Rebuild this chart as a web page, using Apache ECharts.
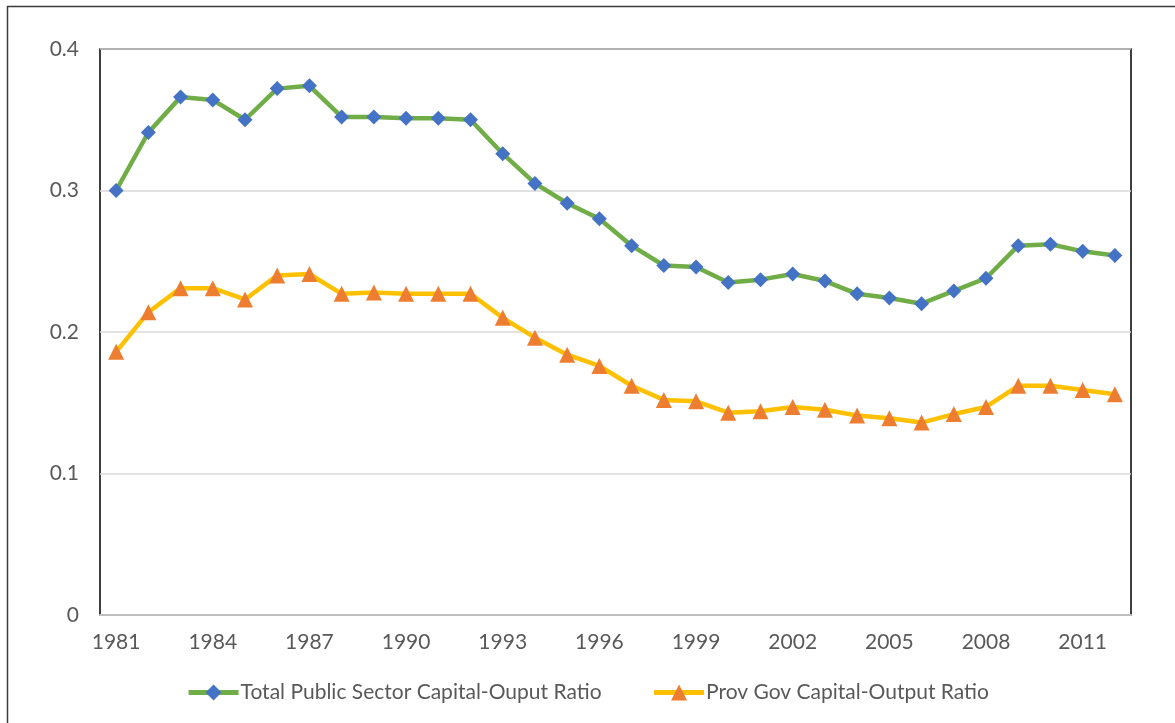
<!DOCTYPE html>
<html>
<head>
<meta charset="utf-8">
<script src="https://cdn.jsdelivr.net/npm/echarts@6/dist/echarts.min.js"></script>
<style>
  html, body { margin: 0; padding: 0; background: #fff; }
  #chart { width: 1175px; height: 723px; }
</style>
</head>
<body>
<div id="chart"></div>
<script>
// years on the x axis
var years = ['1981','1982','1983','1984','1985','1986','1987','1988','1989','1990',
	'1991','1992','1993','1994','1995','1996','1997','1998','1999','2000',
	'2001','2002','2003','2004','2005','2006','2007','2008','2009','2010',
	'2011','2012'];

// Total Public Sector Capital-Ouput Ratio
var totalRatio = [0.300, 0.341, 0.366, 0.364, 0.350, 0.372, 0.374, 0.352, 0.352, 0.351,
	0.351, 0.350, 0.326, 0.305, 0.291, 0.280, 0.261, 0.247, 0.246, 0.235,
	0.237, 0.241, 0.236, 0.227, 0.224, 0.220, 0.229, 0.238, 0.261, 0.262,
	0.257, 0.254];

// Prov Gov Capital-Output Ratio
var provRatio = [0.186, 0.214, 0.231, 0.231, 0.223, 0.240, 0.241, 0.227, 0.228, 0.227,
	0.227, 0.227, 0.210, 0.196, 0.184, 0.176, 0.162, 0.152, 0.151, 0.143,
	0.144, 0.147, 0.145, 0.141, 0.139, 0.136, 0.142, 0.147, 0.162, 0.162,
	0.159, 0.156];

var seriesNames = ['Total Public Sector Capital-Ouput Ratio', 'Prov Gov Capital-Output Ratio'];

var textFont = 'Lato';
var textColor = '#595959';

var chart = echarts.init(document.getElementById('chart'));
var option = {
	backgroundColor: '#fff',
	animation: false,
	textStyle: { fontFamily: textFont },
	graphic: [
		{
			type: 'polyline',
			shape: { points: [[7.5, 723], [7.5, 6.5], [1175, 6.5]] },
			style: { stroke: '#3a3a3a', lineWidth: 1.5, fill: null },
			silent: true
		}
	],
	grid: {
		left: 100,
		right: 44,
		top: 49,
		bottom: 108,
		show: true,
		borderColor: '#000',
		borderWidth: 1.5
	},
	legend: {
		data: seriesNames,
		bottom: 15,
		left: 'center',
		itemWidth: 50,
		itemHeight: 20,
		itemGap: 50,
		lineStyle: { width: 5 },
		textStyle: { color: textColor, fontSize: 21, fontFamily: textFont, padding: [0, 0, 0, -3] }
	},
	xAxis: {
		type: 'category',
		data: years,
		boundaryGap: true,
		axisTick: { show: false },
		axisLine: { lineStyle: { color: '#bfbfbf', width: 2 } },
		axisLabel: {
			interval: 2,
			color: textColor,
			fontSize: 21,
			margin: 17,
			fontFamily: textFont
		},
		splitLine: { show: false }
	},
	yAxis: {
		type: 'value',
		min: 0,
		max: 0.4,
		interval: 0.1,
		axisLine: { show: false },
		axisTick: { show: false },
		axisLabel: {
			color: textColor,
			fontSize: 21,
			margin: 21,
			fontFamily: textFont
		},
		splitLine: { lineStyle: { color: '#d9d9d9', width: 1.5 } }
	},
	series: [
		{
			name: seriesNames[0],
			type: 'line',
			data: totalRatio,
			symbol: 'diamond',
			symbolSize: 15,
			showAllSymbol: true,
			lineStyle: { color: '#70ad47', width: 4.5 },
			itemStyle: { color: '#4472c4', borderWidth: 0 },
			color: '#4472c4'
		},
		{
			name: seriesNames[1],
			type: 'line',
			data: provRatio,
			symbol: 'triangle',
			symbolSize: 16,
			showAllSymbol: true,
			lineStyle: { color: '#ffc000', width: 4.5 },
			itemStyle: { color: '#ed7d31', borderWidth: 0 },
			color: '#ed7d31'
		}
	]
};
chart.setOption(option);
</script>
</body>
</html>
